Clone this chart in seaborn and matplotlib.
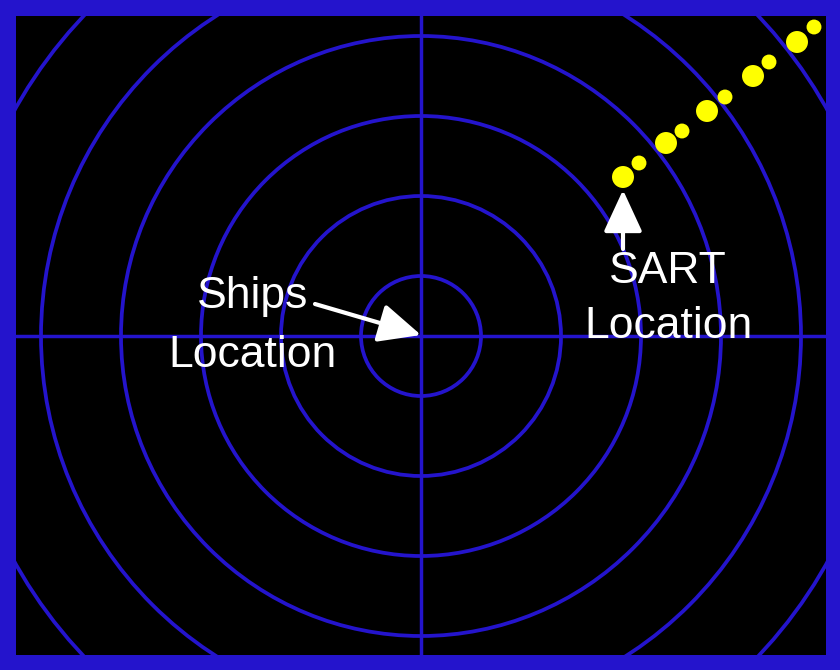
import numpy as np
import pandas as pd
import seaborn as sns
import matplotlib.pyplot as plt
from matplotlib.patches import Circle

# radar picture, everything in pixel units of the 840x670 frame
centre = (421, 336)
ring_radii = [60, 140, 220, 300, 380, 465]

# SART echoes: big and small blips
big_x = [623, 666, 707, 753, 797]
big_y = [177, 143, 111, 76, 42]
small_x = [639, 682, 725, 769, 814]
small_y = [163, 131, 97, 62, 27]

blue = "#2414cc"

sns.set_theme(style="dark")
plt.rcParams['font.family'] = ['Liberation Sans', 'DejaVu Sans']

fig = plt.figure(figsize=(8.4, 6.7), dpi=100, facecolor=blue)
ax = fig.add_axes([16 / 840, 15 / 670, 810 / 840, 639 / 670])
ax.set_facecolor("black")
ax.set_xlim(16, 826)
ax.set_ylim(655, 16)
ax.set_aspect("auto")

# range rings and cross hair
for r in ring_radii:
    ax.add_patch(Circle(centre, r, fill=False, ec=blue, lw=2.7, zorder=1))
ax.axhline(centre[1], color=blue, lw=2.5, zorder=1)
ax.axvline(centre[0], color=blue, lw=2.5, zorder=1)

blips = pd.DataFrame({
    "x": big_x + small_x,
    "y": big_y + small_y,
    "kind": ["big"] * len(big_x) + ["small"] * len(small_x),
})
sns.scatterplot(data=blips, x="x", y="y", size="kind",
                sizes={"big": 250, "small": 115}, color="#ffff00",
                edgecolor="none", legend=False, ax=ax, zorder=3)

txt = dict(color="white", fontsize=32, ha="center", va="baseline", zorder=4)
ax.text(253, 308, "Ships", **txt)
ax.text(253, 367, "Location", **txt)
ax.text(668, 283, "SART", **txt)
ax.text(668, 338, "Location", **txt)

arrow = dict(arrowstyle="-|>,head_length=2.6,head_width=1.2", color="white",
             lw=3, shrinkA=0, shrinkB=0, mutation_scale=10)
ax.annotate("", xy=(421, 335), xytext=(315, 304), arrowprops=arrow, zorder=4)
ax.annotate("", xy=(623, 190), xytext=(623, 249), arrowprops=arrow, zorder=4)

ax.set_xticks([])
ax.set_yticks([])
ax.set_xlabel("")
ax.set_ylabel("")
for s in ax.spines.values():
    s.set_visible(False)

fig.savefig("out.png", dpi=100, facecolor=blue)
